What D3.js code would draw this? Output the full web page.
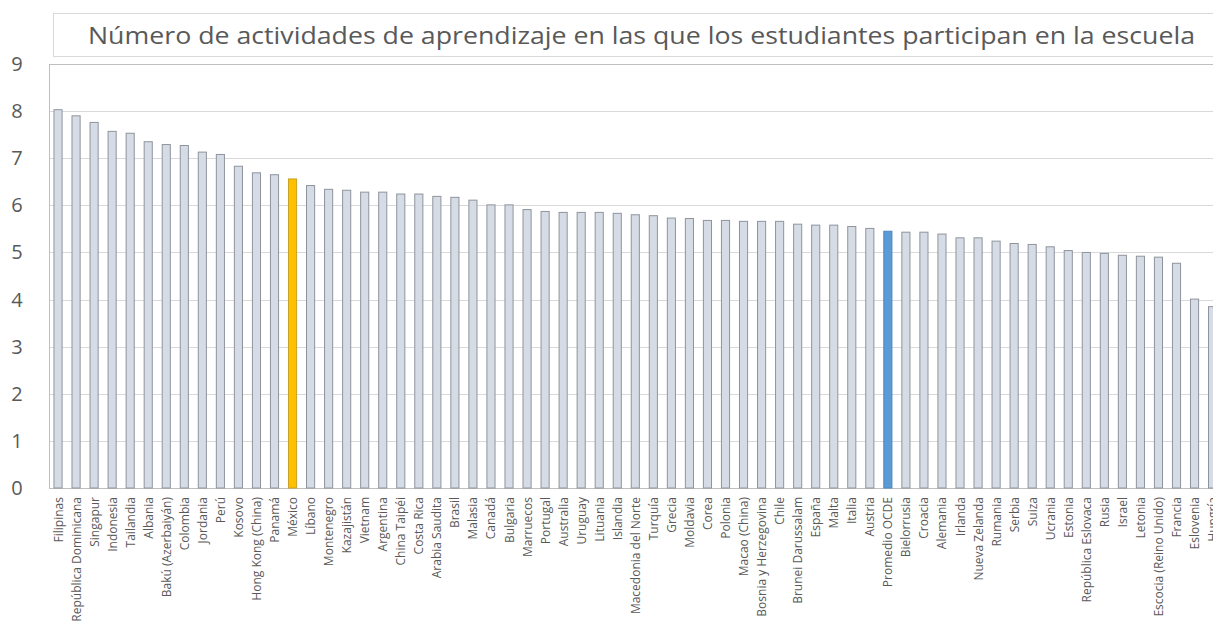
<!DOCTYPE html>
<html><head><meta charset="utf-8">
<script src="https://cdn.jsdelivr.net/npm/d3@7"></script>
<style>html,body{margin:0;padding:0;background:#fff;overflow:hidden}</style>
</head><body>
<svg id="c" width="1213" height="623"></svg>
<script>
const title = "Número de actividades de aprendizaje en las que los estudiantes participan en la escuela";
const categories = ["Filipinas","República Dominicana","Singapur","Indonesia","Tailandia","Albania","Bakú (Azerbaiyán)","Colombia","Jordania","Perú","Kosovo","Hong Kong (China)","Panamá","México","Líbano","Montenegro","Kazajistán","Vietnam","Argentina","China Taipéi","Costa Rica","Arabia Saudita","Brasil","Malasia","Canadá","Bulgaria","Marruecos","Portugal","Australia","Uruguay","Lituania","Islandia","Macedonia del Norte","Turquía","Grecia","Moldavia","Corea","Polonia","Macao (China)","Bosnia y Herzegovina","Chile","Brunei Darussalam","España","Malta","Italia","Austria","Promedio OCDE","Bielorrusia","Croacia","Alemania","Irlanda","Nueva Zelanda","Rumania","Serbia","Suiza","Ucrania","Estonia","República Eslovaca","Rusia","Israel","Letonia","Escocia (Reino Unido)","Francia","Eslovenia","Hungría"];
const values = [8.03,7.90,7.76,7.57,7.53,7.35,7.29,7.27,7.13,7.08,6.83,6.69,6.65,6.56,6.42,6.34,6.32,6.28,6.28,6.24,6.24,6.19,6.17,6.11,6.01,6.01,5.91,5.87,5.85,5.85,5.85,5.83,5.80,5.78,5.73,5.72,5.68,5.68,5.66,5.66,5.66,5.60,5.58,5.58,5.55,5.51,5.45,5.43,5.43,5.39,5.31,5.31,5.24,5.19,5.17,5.12,5.04,5.00,4.98,4.94,4.92,4.90,4.77,4.01,3.85];
const yTicks = [0,1,2,3,4,5,6,7,8,9];
const highlight = {"México":"#ffc000","Promedio OCDE":"#5b9bd5"};

const svg = d3.select("#c");
const mLeft = 49, mTop = 64, mBottom = 488;
const step = 18.04;
const x = d3.scaleBand().domain(categories).range([mLeft, mLeft + step*categories.length]).paddingInner(0.55).paddingOuter(0.275);
const y = d3.scaleLinear().domain([0,9]).range([mBottom, mTop]);
const mRight = mLeft + step*categories.length;

// title box
svg.append("rect").attr("x",53.5).attr("y",13.5).attr("width",1200).attr("height",43)
  .attr("fill","#fff").attr("stroke","#d9d9d9");
svg.append("text").attr("x",88).attr("y",44).attr("font-family","Open Sans").attr("font-size",24.5)
  .attr("fill","#595959").attr("textLength",1107).attr("lengthAdjust","spacingAndGlyphs").text(title);

// gridlines
svg.append("g").selectAll("line").data(yTicks.filter(d=>d>0&&d<9)).join("line")
  .attr("x1",mLeft).attr("x2",mRight).attr("y1",d=>Math.round(y(d))+0.5).attr("y2",d=>Math.round(y(d))+0.5)
  .attr("stroke","#d9d9d9").attr("stroke-width",1);

// plot border
svg.append("rect").attr("x",mLeft+0.5).attr("y",mTop+0.5).attr("width",mRight-mLeft).attr("height",mBottom-mTop)
  .attr("fill","none").attr("stroke","#bfbfbf");

// y tick labels
svg.append("g").selectAll("text").data(yTicks).join("text")
  .attr("x",17).attr("y",d=>y(d)).attr("dy","0.35em").attr("text-anchor","middle")
  .attr("font-family","Open Sans").attr("font-size",20).attr("fill","#595959").text(d=>d);

// bars
svg.append("g").selectAll("rect").data(categories).join("rect")
  .attr("x",d=>x(d)).attr("width",x.bandwidth())
  .attr("y",(d,i)=>y(values[i])).attr("height",(d,i)=>y(0)-y(values[i]))
  .attr("fill",d=>highlight[d]||"#d6dce5")
  .attr("stroke",d=>d==="México"?"#c9a227":(d==="Promedio OCDE"?"#4a86c0":"#8f949c"))
  .attr("stroke-width",1);

// x labels
svg.append("g").selectAll("text").data(categories).join("text")
  .attr("transform",d=>`translate(${x(d)+x.bandwidth()/2+4.5},497) rotate(-90)`)
  .attr("text-anchor","end").attr("font-family","Open Sans").attr("font-size",12)
  .attr("fill","#595959").text(d=>d);
</script>
</body></html>
